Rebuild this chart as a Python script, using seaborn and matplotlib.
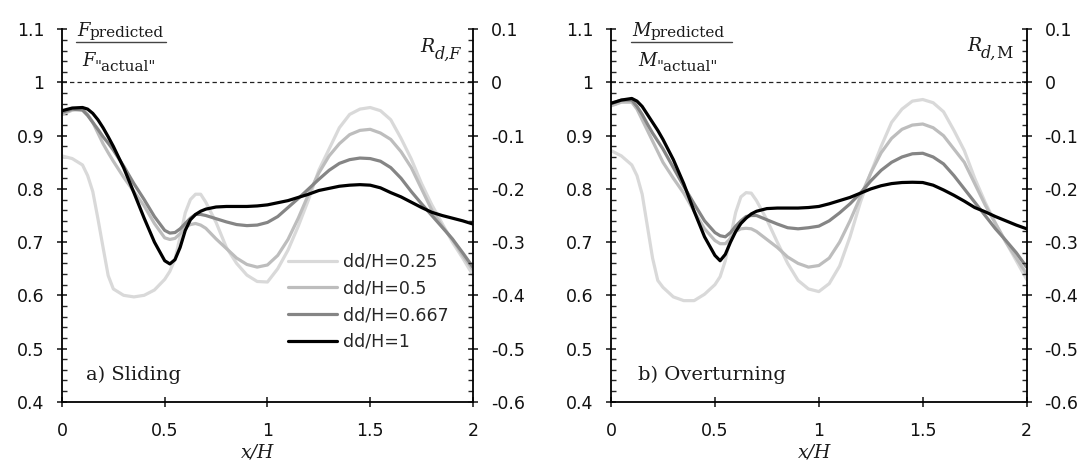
import matplotlib
matplotlib.use("Agg")
import matplotlib.pyplot as plt
import matplotlib.transforms as mtransforms
from matplotlib.ticker import FixedLocator, FixedFormatter, MultipleLocator, NullLocator
import pandas as pd
import seaborn as sns

# ---- data -------------------------------------------------------------
x_over_h = [0.00, 0.05, 0.10, 0.125, 0.15, 0.175, 0.20, 0.225, 0.25, 0.30,
            0.35, 0.40, 0.45, 0.50, 0.525, 0.55, 0.575, 0.60, 0.625, 0.65,
            0.675, 0.70, 0.75, 0.80, 0.85, 0.90, 0.95, 1.00, 1.05, 1.10,
            1.15, 1.20, 1.25, 1.30, 1.35, 1.40, 1.45, 1.50, 1.55, 1.60,
            1.65, 1.70, 1.75, 1.80, 1.85, 1.90, 1.95, 2.00]

case_labels = ["dd/H=0.25", "dd/H=0.5", "dd/H=0.667", "dd/H=1"]

# a) Sliding: F_predicted / F_"actual"
sliding_025 = [0.862, 0.857, 0.845, 0.825, 0.795, 0.744, 0.690, 0.637, 0.612, 0.600,
               0.597, 0.600, 0.610, 0.630, 0.645, 0.668, 0.710, 0.755, 0.780, 0.790,
               0.790, 0.775, 0.737, 0.690, 0.660, 0.638, 0.626, 0.625, 0.650, 0.685,
               0.730, 0.780, 0.835, 0.875, 0.915, 0.940, 0.950, 0.953, 0.947, 0.930,
               0.895, 0.856, 0.810, 0.770, 0.735, 0.700, 0.670, 0.638]
sliding_05 = [0.940, 0.948, 0.950, 0.940, 0.925, 0.905, 0.885, 0.868, 0.852, 0.822,
              0.795, 0.768, 0.735, 0.708, 0.705, 0.707, 0.716, 0.728, 0.733, 0.735,
              0.732, 0.726, 0.706, 0.688, 0.670, 0.658, 0.653, 0.657, 0.675, 0.705,
              0.745, 0.790, 0.830, 0.862, 0.885, 0.902, 0.910, 0.912, 0.905, 0.893,
              0.870, 0.840, 0.800, 0.760, 0.730, 0.705, 0.675, 0.648]
sliding_0667 = [0.944, 0.950, 0.948, 0.938, 0.925, 0.912, 0.898, 0.886, 0.873, 0.843,
                0.810, 0.780, 0.748, 0.722, 0.717, 0.718, 0.725, 0.735, 0.745, 0.752,
                0.752, 0.750, 0.744, 0.738, 0.733, 0.731, 0.732, 0.737, 0.748, 0.765,
                0.782, 0.800, 0.818, 0.835, 0.848, 0.855, 0.858, 0.857, 0.852, 0.840,
                0.820, 0.795, 0.772, 0.750, 0.728, 0.706, 0.680, 0.653]
sliding_1 = [0.947, 0.952, 0.953, 0.950, 0.942, 0.930, 0.915, 0.898, 0.880, 0.840,
             0.793, 0.745, 0.700, 0.665, 0.659, 0.667, 0.690, 0.722, 0.742, 0.752,
             0.758, 0.762, 0.766, 0.767, 0.767, 0.767, 0.768, 0.770, 0.774, 0.778,
             0.784, 0.790, 0.797, 0.801, 0.805, 0.807, 0.808, 0.807, 0.802, 0.793,
             0.785, 0.775, 0.765, 0.756, 0.750, 0.745, 0.740, 0.734]

# b) Overturning: M_predicted / M_"actual"
overturning_025 = [0.872, 0.862, 0.845, 0.825, 0.790, 0.730, 0.670, 0.628, 0.615, 0.597,
                   0.590, 0.590, 0.602, 0.620, 0.635, 0.665, 0.710, 0.756, 0.785, 0.793,
                   0.792, 0.778, 0.742, 0.700, 0.660, 0.628, 0.612, 0.607, 0.622, 0.655,
                   0.710, 0.775, 0.830, 0.880, 0.925, 0.950, 0.965, 0.968, 0.962, 0.945,
                   0.910, 0.872, 0.820, 0.775, 0.735, 0.700, 0.665, 0.630]
overturning_05 = [0.956, 0.963, 0.963, 0.950, 0.930, 0.910, 0.890, 0.870, 0.850, 0.820,
                  0.792, 0.758, 0.725, 0.703, 0.697, 0.697, 0.707, 0.720, 0.725, 0.726,
                  0.725, 0.720, 0.705, 0.690, 0.672, 0.660, 0.653, 0.656, 0.670, 0.700,
                  0.740, 0.785, 0.830, 0.868, 0.895, 0.912, 0.920, 0.922, 0.915, 0.900,
                  0.875, 0.850, 0.810, 0.770, 0.735, 0.700, 0.670, 0.640]
overturning_0667 = [0.960, 0.967, 0.967, 0.955, 0.940, 0.922, 0.905, 0.890, 0.875, 0.840,
                    0.805, 0.772, 0.740, 0.718, 0.712, 0.710, 0.718, 0.730, 0.740, 0.748,
                    0.750, 0.750, 0.742, 0.734, 0.727, 0.725, 0.727, 0.730, 0.740, 0.755,
                    0.772, 0.792, 0.815, 0.835, 0.850, 0.860, 0.866, 0.867, 0.860, 0.847,
                    0.825, 0.800, 0.775, 0.750, 0.725, 0.703, 0.680, 0.653]
overturning_1 = [0.961, 0.967, 0.970, 0.965, 0.955, 0.940, 0.925, 0.910, 0.893, 0.855,
                 0.810, 0.758, 0.710, 0.675, 0.665, 0.677, 0.700, 0.720, 0.735, 0.745,
                 0.753, 0.758, 0.763, 0.764, 0.764, 0.764, 0.765, 0.767, 0.772, 0.778,
                 0.784, 0.792, 0.800, 0.806, 0.810, 0.812, 0.8125, 0.812, 0.807, 0.798,
                 0.788, 0.777, 0.765, 0.757, 0.748, 0.740, 0.732, 0.725]

ratio_ticks = [0.4, 0.5, 0.6, 0.7, 0.8, 0.9, 1.0, 1.1]
ratio_tick_labels = ["0.4", "0.5", "0.6", "0.7", "0.8", "0.9", "1", "1.1"]
rd_ticks = [-0.6, -0.5, -0.4, -0.3, -0.2, -0.1, 0.0, 0.1]
rd_tick_labels = ["-0.6", "-0.5", "-0.4", "-0.3", "-0.2", "-0.1", "0", "0.1"]
x_ticks = [0, 0.5, 1, 1.5, 2]
x_tick_labels = ["0", "0.5", "1", "1.5", "2"]

# ---- style ------------------------------------------------------------
sns.set_style("ticks")
plt.rcParams["font.family"] = ["DejaVu Sans"]
plt.rcParams["axes.unicode_minus"] = False
plt.rcParams["axes.edgecolor"] = "black"

palette = dict(zip(case_labels, ["#d9d9d9", "#bdbdbd", "#858585", "#000000"]))
SERIF = "DejaVu Serif"
TEXT_COLOR = "#1a1a1a"
TICK_SIZE = 12.5


def long_frame(series):
    rows = []
    for label, values in zip(case_labels, series):
        for xv, yv in zip(x_over_h, values):
            rows.append({"x/H": xv, "ratio": yv, "case": label})
    return pd.DataFrame(rows)


def compose(ax, x, y, parts):
    """Write a run of text pieces left to right, each with its own style."""
    fig = ax.figure
    renderer = fig.canvas.get_renderer()
    dx = 0.0
    for text, style, size, dy in parts:
        tr = mtransforms.offset_copy(ax.transAxes, fig=fig, x=dx, y=dy, units="points")
        t = ax.text(x, y, text, transform=tr, fontsize=size, fontstyle=style,
                    family=SERIF, ha="left", va="baseline", color=TEXT_COLOR)
        dx += t.get_window_extent(renderer).width * 72.0 / fig.dpi


fig = plt.figure(figsize=(10.87, 4.71), dpi=100)
ax_a = fig.add_axes([0.0570, 0.1471, 0.3781, 0.7907])
ax_b = fig.add_axes([0.5621, 0.1471, 0.3824, 0.7907])

panels = [
    (ax_a, [sliding_025, sliding_05, sliding_0667, sliding_1], "F", "a) Sliding"),
    (ax_b, [overturning_025, overturning_05, overturning_0667, overturning_1], "M", "b) Overturning"),
]

for i, (ax, series, sym, title) in enumerate(panels):
    df = long_frame(series)
    sns.lineplot(data=df, x="x/H", y="ratio", hue="case", palette=palette,
                 hue_order=case_labels, linewidth=2.3, estimator=None, sort=False,
                 legend=False, ax=ax)
    curve_lines = list(ax.lines[:4])
    for ln in curve_lines:
        ln.set_solid_capstyle("round")
        ln.set_solid_joinstyle("round")

    ax.axhline(1.0, color="#222222", lw=0.9, ls=(0, (3.5, 2.5)), zorder=1)

    ax.set_xlim(0, 2)
    ax.set_ylim(0.4, 1.1)
    ax.xaxis.set_major_locator(FixedLocator(x_ticks))
    ax.xaxis.set_major_formatter(FixedFormatter(x_tick_labels))
    ax.xaxis.set_minor_locator(NullLocator())
    ax.yaxis.set_major_locator(FixedLocator(ratio_ticks))
    ax.yaxis.set_major_formatter(FixedFormatter(ratio_tick_labels))
    ax.yaxis.set_minor_locator(MultipleLocator(0.02))
    ax.yaxis.set_ticks_position("left")
    ax.xaxis.set_ticks_position("bottom")

    ax.tick_params(axis="y", which="major", direction="inout", length=7.5, width=1.1,
                   pad=9, labelsize=TICK_SIZE, colors="#111111")
    ax.tick_params(axis="y", which="minor", direction="in", length=3.8, width=1.0)
    ax.tick_params(axis="x", which="major", direction="inout", length=7.5, width=1.1,
                   pad=11, labelsize=TICK_SIZE, colors="#111111")

    for side in ["top", "right"]:
        ax.spines[side].set_visible(False)
    for side in ["left", "bottom"]:
        ax.spines[side].set_linewidth(1.3)
        ax.spines[side].set_color("black")

    ax.set_ylabel("")
    ax.set_xlabel("x/H", family=SERIF, fontstyle="italic", fontsize=13.5, color=TEXT_COLOR)
    ax.xaxis.set_label_coords(0.477 if i == 0 else 0.49, -0.150)
    ax.xaxis.label.set_va("baseline")

    # secondary scale R_d = ratio - 1 on the right-hand spine
    ax2 = ax.twinx()
    ax2.set_ylim(-0.6, 0.1)
    ax2.yaxis.set_major_locator(FixedLocator(rd_ticks))
    ax2.yaxis.set_major_formatter(FixedFormatter(rd_tick_labels))
    ax2.yaxis.set_minor_locator(MultipleLocator(0.02))
    ax2.tick_params(axis="y", which="major", direction="inout", length=7.5, width=1.1,
                    pad=9, labelsize=TICK_SIZE, colors="#111111")
    ax2.tick_params(axis="y", which="minor", direction="in", length=3.8, width=1.0)
    for side in ["top", "left", "bottom"]:
        ax2.spines[side].set_visible(False)
    ax2.spines["right"].set_linewidth(1.3)
    ax2.spines["right"].set_color("black")

    # panel caption
    ax.text(0.058 if i == 0 else 0.065, 0.058, title, transform=ax.transAxes,
            family=SERIF, fontsize=14, ha="left", va="baseline", color=TEXT_COLOR)

    # ratio label as a stacked fraction
    if i == 0:
        num_x, den_x, bar = 0.037, 0.049, (0.034, 0.253)
    else:
        num_x, den_x, bar = 0.051, 0.065, (0.048, 0.291)
    compose(ax, num_x, 0.981, [(sym, "italic", 13, 0), ("predicted", "normal", 11, -0.8)])
    compose(ax, den_x, 0.901, [(sym, "italic", 13, 0), ('"actual"', "normal", 11, -3.6)])
    ax.plot(bar, [0.966, 0.966], transform=ax.transAxes, color="#444444", lw=1.0,
            clip_on=False)

    # label for the right-hand scale
    if i == 0:
        compose(ax, 0.873, 0.940, [("R", "italic", 13.5, 0), ("d,F", "italic", 11.5, -5.2)])
    else:
        compose(ax, 0.856, 0.942, [("R", "italic", 13.5, 0), ("d,", "italic", 11.5, -5.2),
                                   ("M", "normal", 11.5, -5.2)])

    if i == 0:
        ax.legend(curve_lines, case_labels, loc="upper left", bbox_to_anchor=(0.55, 0.40),
                  frameon=False, fontsize=12.5, handlelength=2.8, handletextpad=0.35,
                  labelspacing=0.5, borderpad=0, borderaxespad=0)

fig.savefig("out.png", dpi=100)
